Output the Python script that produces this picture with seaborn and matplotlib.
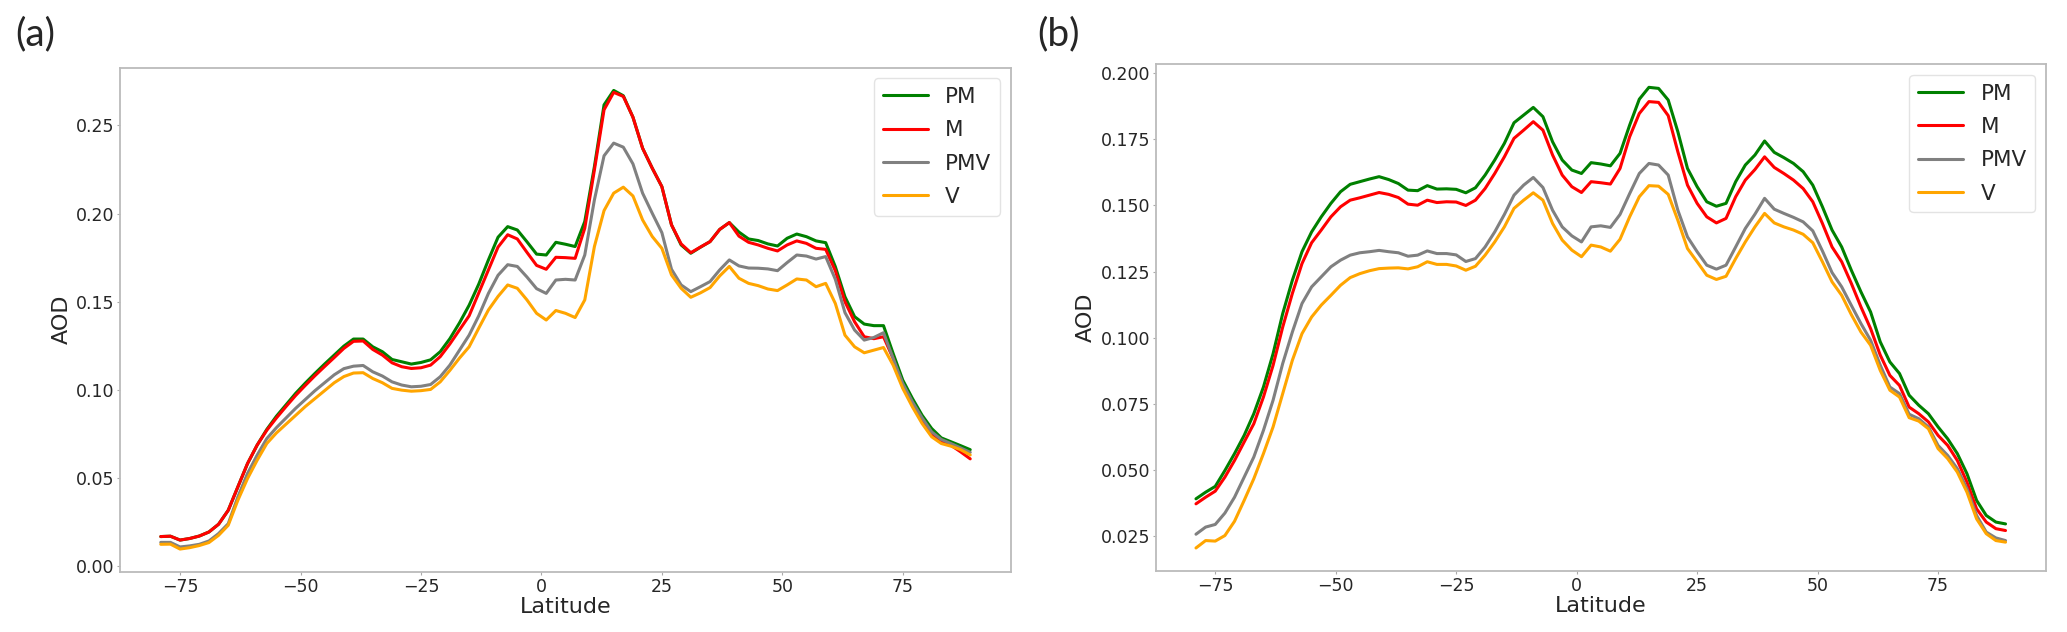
import numpy as np
import pandas as pd
import matplotlib
matplotlib.use("Agg")
import matplotlib.pyplot as plt
import seaborn as sns

# ---------------- data ----------------
latitude = list(range(-79, 90, 2))
series_names = ["PM", "M", "PMV", "V"]
series_colors = ["green", "red", "grey", "orange"]

# panel (a)
pm_a = [0.0167, 0.0169, 0.0147, 0.0156, 0.0170, 0.0193, 0.0237, 0.0316, 0.0449, 0.0581,
        0.0686, 0.0775, 0.0850, 0.0915, 0.0980, 0.1038, 0.1093, 0.1146, 0.1197, 0.1248,
        0.1288, 0.1288, 0.1244, 0.1216, 0.1172, 0.1159, 0.1146, 0.1155, 0.1170, 0.1216,
        0.1290, 0.1380, 0.1480, 0.1600, 0.1737, 0.1866, 0.1926, 0.1907, 0.1840, 0.1770,
        0.1765, 0.1837, 0.1826, 0.1813, 0.1955, 0.2267, 0.2617, 0.2699, 0.2669, 0.2547,
        0.2371, 0.2258, 0.2153, 0.1936, 0.1822, 0.1775, 0.1809, 0.1841, 0.1910, 0.1949,
        0.1895, 0.1856, 0.1847, 0.1828, 0.1816, 0.1860, 0.1884, 0.1869, 0.1845, 0.1835,
        0.1699, 0.1528, 0.1415, 0.1373, 0.1364, 0.1364, 0.1206, 0.1055, 0.0951, 0.0856,
        0.0780, 0.0727, 0.0705, 0.0683, 0.0660]
m_a = [0.0167, 0.0169, 0.0147, 0.0156, 0.0170, 0.0193, 0.0237, 0.0316, 0.0449, 0.0581,
       0.0686, 0.0770, 0.0840, 0.0905, 0.0968, 0.1025, 0.1080, 0.1132, 0.1183, 0.1235,
       0.1275, 0.1277, 0.1229, 0.1197, 0.1153, 0.1131, 0.1121, 0.1125, 0.1140, 0.1188,
       0.1260, 0.1340, 0.1420, 0.1550, 0.1680, 0.1810, 0.1880, 0.1856, 0.1780, 0.1706,
       0.1684, 0.1752, 0.1750, 0.1746, 0.1917, 0.2248, 0.2589, 0.2688, 0.2665, 0.2547,
       0.2371, 0.2258, 0.2153, 0.1936, 0.1828, 0.1778, 0.1810, 0.1841, 0.1910, 0.1949,
       0.1872, 0.1837, 0.1822, 0.1803, 0.1788, 0.1822, 0.1845, 0.1831, 0.1803, 0.1797,
       0.1676, 0.1500, 0.1386, 0.1301, 0.1290, 0.1301, 0.1178, 0.1017, 0.0922, 0.0828,
       0.0752, 0.0705, 0.0685, 0.0648, 0.0608]
pmv_a = [0.0134, 0.0134, 0.0108, 0.0114, 0.0123, 0.0142, 0.0184, 0.0240, 0.0392, 0.0525,
         0.0629, 0.0723, 0.0785, 0.0840, 0.0895, 0.0945, 0.0995, 0.1040, 0.1085, 0.1120,
         0.1134, 0.1138, 0.1102, 0.1078, 0.1045, 0.1027, 0.1017, 0.1020, 0.1030, 0.1074,
         0.1140, 0.1225, 0.1310, 0.1420, 0.1547, 0.1650, 0.1710, 0.1700, 0.1640, 0.1574,
         0.1547, 0.1623, 0.1627, 0.1623, 0.1765, 0.2078, 0.2328, 0.2400, 0.2377, 0.2282,
         0.2116, 0.2002, 0.1892, 0.1684, 0.1595, 0.1557, 0.1585, 0.1614, 0.1680, 0.1737,
         0.1703, 0.1691, 0.1690, 0.1686, 0.1676, 0.1722, 0.1765, 0.1759, 0.1742, 0.1756,
         0.1627, 0.1438, 0.1339, 0.1282, 0.1297, 0.1324, 0.1178, 0.1036, 0.0932, 0.0841,
         0.0761, 0.0718, 0.0695, 0.0670, 0.0645]
v_a = [0.0123, 0.0124, 0.0096, 0.0104, 0.0116, 0.0133, 0.0174, 0.0231, 0.0373, 0.0496,
       0.0600, 0.0695, 0.0755, 0.0805, 0.0855, 0.0905, 0.0950, 0.0995, 0.1040, 0.1075,
       0.1095, 0.1097, 0.1064, 0.1040, 0.1008, 0.0998, 0.0992, 0.0995, 0.1002, 0.1045,
       0.1110, 0.1180, 0.1244, 0.1350, 0.1453, 0.1530, 0.1595, 0.1576, 0.1510, 0.1434,
       0.1396, 0.1450, 0.1434, 0.1410, 0.1510, 0.1813, 0.2017, 0.2116, 0.2150, 0.2100,
       0.1964, 0.1870, 0.1803, 0.1652, 0.1576, 0.1525, 0.1550, 0.1580, 0.1646, 0.1700,
       0.1633, 0.1604, 0.1591, 0.1572, 0.1563, 0.1595, 0.1629, 0.1623, 0.1585, 0.1604,
       0.1490, 0.1310, 0.1244, 0.1210, 0.1225, 0.1240, 0.1140, 0.1008, 0.0903, 0.0809,
       0.0733, 0.0695, 0.0680, 0.0660, 0.0630]

# panel (b)
pm_b = [0.0390, 0.0415, 0.0437, 0.0497, 0.0561, 0.0630, 0.0712, 0.0813, 0.0939, 0.1091,
        0.1217, 0.1325, 0.1400, 0.1457, 0.1508, 0.1552, 0.1580, 0.1590, 0.1600, 0.1609,
        0.1598, 0.1583, 0.1558, 0.1556, 0.1575, 0.1562, 0.1563, 0.1561, 0.1548, 0.1567,
        0.1615, 0.1672, 0.1735, 0.1813, 0.1842, 0.1871, 0.1836, 0.1741, 0.1672, 0.1634,
        0.1621, 0.1662, 0.1657, 0.1650, 0.1697, 0.1804, 0.1902, 0.1947, 0.1943, 0.1899,
        0.1779, 0.1640, 0.1571, 0.1514, 0.1497, 0.1508, 0.1590, 0.1653, 0.1691, 0.1744,
        0.1701, 0.1681, 0.1659, 0.1628, 0.1577, 0.1495, 0.1407, 0.1343, 0.1255, 0.1173,
        0.1097, 0.0984, 0.0908, 0.0864, 0.0782, 0.0744, 0.0712, 0.0662, 0.0617, 0.0561,
        0.0485, 0.0384, 0.0327, 0.0302, 0.0295]
m_b = [0.0371, 0.0396, 0.0419, 0.0472, 0.0535, 0.0605, 0.0674, 0.0775, 0.0895, 0.1040,
       0.1167, 0.1280, 0.1359, 0.1407, 0.1457, 0.1495, 0.1520, 0.1529, 0.1539, 0.1549,
       0.1542, 0.1530, 0.1505, 0.1501, 0.1520, 0.1511, 0.1514, 0.1513, 0.1500, 0.1520,
       0.1564, 0.1621, 0.1684, 0.1754, 0.1785, 0.1817, 0.1785, 0.1691, 0.1615, 0.1571,
       0.1549, 0.1590, 0.1586, 0.1581, 0.1640, 0.1760, 0.1848, 0.1893, 0.1890, 0.1840,
       0.1703, 0.1577, 0.1508, 0.1457, 0.1434, 0.1451, 0.1533, 0.1596, 0.1636, 0.1684,
       0.1644, 0.1621, 0.1596, 0.1564, 0.1514, 0.1432, 0.1343, 0.1287, 0.1205, 0.1116,
       0.1034, 0.0934, 0.0857, 0.0819, 0.0737, 0.0712, 0.0681, 0.0630, 0.0592, 0.0535,
       0.0453, 0.0352, 0.0302, 0.0277, 0.0270]
pmv_b = [0.0256, 0.0283, 0.0293, 0.0336, 0.0396, 0.0472, 0.0548, 0.0649, 0.0763, 0.0902,
         0.1021, 0.1129, 0.1192, 0.1230, 0.1268, 0.1293, 0.1312, 0.1321, 0.1325, 0.1330,
         0.1325, 0.1321, 0.1308, 0.1312, 0.1328, 0.1318, 0.1318, 0.1313, 0.1288, 0.1299,
         0.1343, 0.1400, 0.1466, 0.1539, 0.1577, 0.1606, 0.1568, 0.1482, 0.1419, 0.1385,
         0.1362, 0.1419, 0.1423, 0.1417, 0.1466, 0.1545, 0.1621, 0.1659, 0.1653, 0.1615,
         0.1482, 0.1381, 0.1325, 0.1274, 0.1259, 0.1274, 0.1343, 0.1413, 0.1467, 0.1527,
         0.1486, 0.1470, 0.1455, 0.1438, 0.1404, 0.1328, 0.1246, 0.1192, 0.1122, 0.1053,
         0.0990, 0.0896, 0.0813, 0.0788, 0.0710, 0.0693, 0.0662, 0.0592, 0.0554, 0.0504,
         0.0428, 0.0327, 0.0264, 0.0242, 0.0232]
v_b = [0.0204, 0.0232, 0.0230, 0.0251, 0.0305, 0.0384, 0.0466, 0.0561, 0.0662, 0.0788,
       0.0914, 0.1015, 0.1078, 0.1123, 0.1160, 0.1198, 0.1227, 0.1242, 0.1253, 0.1261,
       0.1263, 0.1264, 0.1260, 0.1268, 0.1287, 0.1277, 0.1277, 0.1271, 0.1255, 0.1270,
       0.1312, 0.1362, 0.1419, 0.1489, 0.1520, 0.1548, 0.1520, 0.1432, 0.1369, 0.1331,
       0.1306, 0.1350, 0.1343, 0.1327, 0.1372, 0.1457, 0.1533, 0.1575, 0.1573, 0.1542,
       0.1444, 0.1337, 0.1287, 0.1236, 0.1220, 0.1232, 0.1299, 0.1362, 0.1419, 0.1470,
       0.1434, 0.1419, 0.1407, 0.1391, 0.1359, 0.1287, 0.1211, 0.1160, 0.1087, 0.1021,
       0.0971, 0.0876, 0.0801, 0.0775, 0.0697, 0.0684, 0.0655, 0.0580, 0.0542, 0.0491,
       0.0415, 0.0314, 0.0258, 0.0232, 0.0226]

panel_labels = ["(a)", "(b)"]
x_label = "Latitude"
y_label = "AOD"


def long_table(values):
    frames = []
    for name, vals in zip(series_names, values):
        frames.append(pd.DataFrame({"Latitude": latitude, "AOD": vals, "Scenario": name}))
    return pd.concat(frames, ignore_index=True)


df_a = long_table([pm_a, m_a, pmv_a, v_a])
df_b = long_table([pm_b, m_b, pmv_b, v_b])

# ---------------- figure ----------------
sns.set_style("white")
plt.rcParams["font.family"] = ["DejaVu Sans"]

W, H = 2067, 632
fig = plt.figure(figsize=(W / 100, H / 100), dpi=100)

ax_a = fig.add_axes([120.3 / W, 1 - 572 / H, 890.4 / W, (572 - 67.5) / H])
ax_b = fig.add_axes([1155.5 / W, 1 - 571 / H, 890.5 / W, (571 - 64.3) / H])

palette = dict(zip(series_names, series_colors))

for ax, df, lab, lx in [(ax_a, df_a, panel_labels[0], 15), (ax_b, df_b, panel_labels[1], 1037)]:
    sns.lineplot(data=df, x="Latitude", y="AOD", hue="Scenario",
                 hue_order=series_names, palette=palette, linewidth=2.2,
                 ax=ax, legend=True)
    handles, labels = ax.get_legend_handles_labels()
    ax.legend(handles, labels, loc="upper right", fontsize=15.5, frameon=True,
              fancybox=True, edgecolor="#dddddd", handlelength=2.1,
              handletextpad=0.8, borderaxespad=0.5, labelspacing=0.62)
    for h in ax.get_legend().get_lines():
        h.set_linewidth(2.2)
    ax.set_xlabel(x_label, fontsize=16, labelpad=1)
    ax.set_ylabel(y_label, fontsize=16, labelpad=3)
    ax.tick_params(axis="both", labelsize=12.5, length=2, width=0.8,
                   color="#aaaaaa", pad=2, left=True, bottom=True)
    for sp in ax.spines.values():
        sp.set_color("#bbbbbb")
        sp.set_linewidth(1.3)
    fig.text(lx / W, 1 - 34 / H, lab, fontsize=28, family=["Lato", "DejaVu Sans"],
             ha="left", va="center")

fig.savefig("out.png", dpi=100)
